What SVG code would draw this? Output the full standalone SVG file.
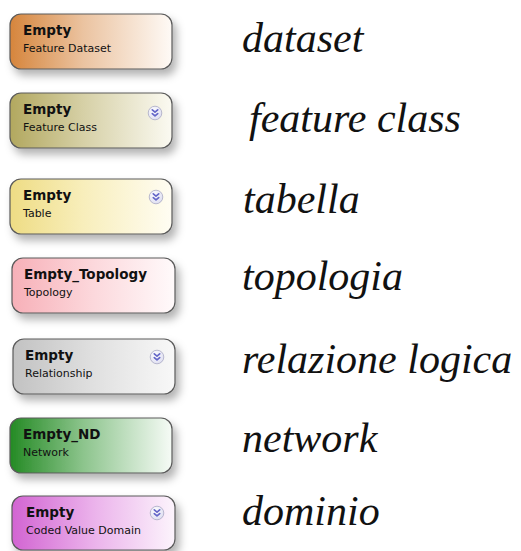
<svg xmlns="http://www.w3.org/2000/svg" width="521" height="551" viewBox="0 0 521 551">
  <style>
    .box { stroke: #5a5a5a; stroke-width: 1.2; filter: url(#shadow); }
    .name { font-family: "DejaVu Sans", Verdana, sans-serif; font-weight: bold; font-size: 13.5px; fill: #111; }
    .kind { font-family: "DejaVu Sans", Verdana, sans-serif; font-size: 11px; fill: #111; }
    .label { font-family: "Liberation Serif", "Times New Roman", serif; font-style: italic; font-size: 42px; fill: #111; }
    .chev { fill: none; stroke: #6466c8; stroke-width: 1.7; stroke-linecap: round; stroke-linejoin: round; }
    .knob { fill: url(#knobFill); stroke: #a9a9c4; stroke-width: 0.8; }
  </style>
  <defs>
    <filter id="shadow" x="-10%" y="-20%" width="130%" height="170%">
      <feDropShadow dx="4" dy="6" stdDeviation="4" flood-color="#000" flood-opacity="0.3"/>
    </filter>
    <radialGradient id="knobFill" cx="40%" cy="35%" r="70%">
      <stop offset="0" stop-color="#ffffff"/>
      <stop offset="1" stop-color="#dcdcf0"/>
    </radialGradient>
    <linearGradient id="gDataset" x1="0" y1="0" x2="1" y2="0">
      <stop offset="0" stop-color="#d6853c"/>
      <stop offset="0.45" stop-color="#ebc3a0"/>
      <stop offset="1" stop-color="#fefaf6"/>
    </linearGradient>
    <linearGradient id="gFeature" x1="0" y1="0" x2="1" y2="0">
      <stop offset="0" stop-color="#b2a85f"/>
      <stop offset="0.45" stop-color="#d6d0a6"/>
      <stop offset="1" stop-color="#fbfaf2"/>
    </linearGradient>
    <linearGradient id="gTable" x1="0" y1="0" x2="1" y2="0">
      <stop offset="0" stop-color="#eedc84"/>
      <stop offset="0.45" stop-color="#f8eebb"/>
      <stop offset="1" stop-color="#fffdf3"/>
    </linearGradient>
    <linearGradient id="gTopology" x1="0" y1="0" x2="1" y2="0">
      <stop offset="0" stop-color="#f7b0b8"/>
      <stop offset="0.5" stop-color="#fcd8dc"/>
      <stop offset="1" stop-color="#fffafb"/>
    </linearGradient>
    <linearGradient id="gRelation" x1="0" y1="0" x2="1" y2="0">
      <stop offset="0" stop-color="#c2c2c2"/>
      <stop offset="0.5" stop-color="#e0e0e0"/>
      <stop offset="1" stop-color="#f8f8f8"/>
    </linearGradient>
    <linearGradient id="gNetwork" x1="0" y1="0" x2="1" y2="0">
      <stop offset="0" stop-color="#248a24"/>
      <stop offset="0.45" stop-color="#8cc48c"/>
      <stop offset="1" stop-color="#f6fbf6"/>
    </linearGradient>
    <linearGradient id="gDomain" x1="0" y1="0" x2="1" y2="0">
      <stop offset="0" stop-color="#d264d2"/>
      <stop offset="0.5" stop-color="#ebb2eb"/>
      <stop offset="1" stop-color="#fcf4fc"/>
    </linearGradient>
    <!-- round expand button with a double down-chevron -->
    <g id="expander">
      <circle class="knob" cx="0" cy="0" r="6.8"/>
      <path class="chev" d="M-2.7,-3.1 L0,-0.8 L2.7,-3.1 M-2.7,0.6 L0,2.9 L2.7,0.6"/>
    </g>
  </defs>

  <!-- legend entries: model element on the left, its Italian term on the right -->
  <g id="node-dataset">
    <rect class="box" x="10" y="14" width="162" height="55" rx="11" fill="url(#gDataset)"/>
    <text class="name" x="23" y="35">Empty</text>
    <text class="kind" x="23" y="52">Feature Dataset</text>
  </g>
  <g id="node-feature-class">
    <rect class="box" x="10" y="93" width="162" height="55" rx="11" fill="url(#gFeature)"/>
    <text class="name" x="23" y="114">Empty</text>
    <text class="kind" x="23" y="131">Feature Class</text>
    <use href="#expander" x="155" y="113"/>
  </g>
  <g id="node-table">
    <rect class="box" x="10" y="179" width="162" height="55" rx="11" fill="url(#gTable)"/>
    <text class="name" x="23" y="200">Empty</text>
    <text class="kind" x="23" y="217">Table</text>
    <use href="#expander" x="156" y="197"/>
  </g>
  <g id="node-topology">
    <rect class="box" x="12" y="258" width="163" height="55" rx="11" fill="url(#gTopology)"/>
    <text class="name" x="24" y="279">Empty_Topology</text>
    <text class="kind" x="24" y="296">Topology</text>
  </g>
  <g id="node-relationship">
    <rect class="box" x="13" y="339" width="162" height="55" rx="11" fill="url(#gRelation)"/>
    <text class="name" x="25" y="360">Empty</text>
    <text class="kind" x="25" y="377">Relationship</text>
    <use href="#expander" x="157" y="357"/>
  </g>
  <g id="node-network">
    <rect class="box" x="10" y="418" width="162" height="55" rx="11" fill="url(#gNetwork)"/>
    <text class="name" x="23" y="439">Empty_ND</text>
    <text class="kind" x="23" y="456">Network</text>
  </g>
  <g id="node-domain">
    <rect class="box" x="12" y="496" width="163" height="54" rx="11" fill="url(#gDomain)"/>
    <text class="name" x="26" y="517">Empty</text>
    <text class="kind" x="26" y="534">Coded Value Domain</text>
    <use href="#expander" x="157" y="513"/>
  </g>

  <g id="labels">
    <text class="label" x="242" y="52">dataset</text>
    <text class="label" x="249" y="132">feature class</text>
    <text class="label" x="243" y="213">tabella</text>
    <text class="label" x="242" y="290">topologia</text>
    <text class="label" x="242" y="373">relazione logica</text>
    <text class="label" x="242" y="452">network</text>
    <text class="label" x="242" y="525">dominio</text>
  </g>
</svg>
